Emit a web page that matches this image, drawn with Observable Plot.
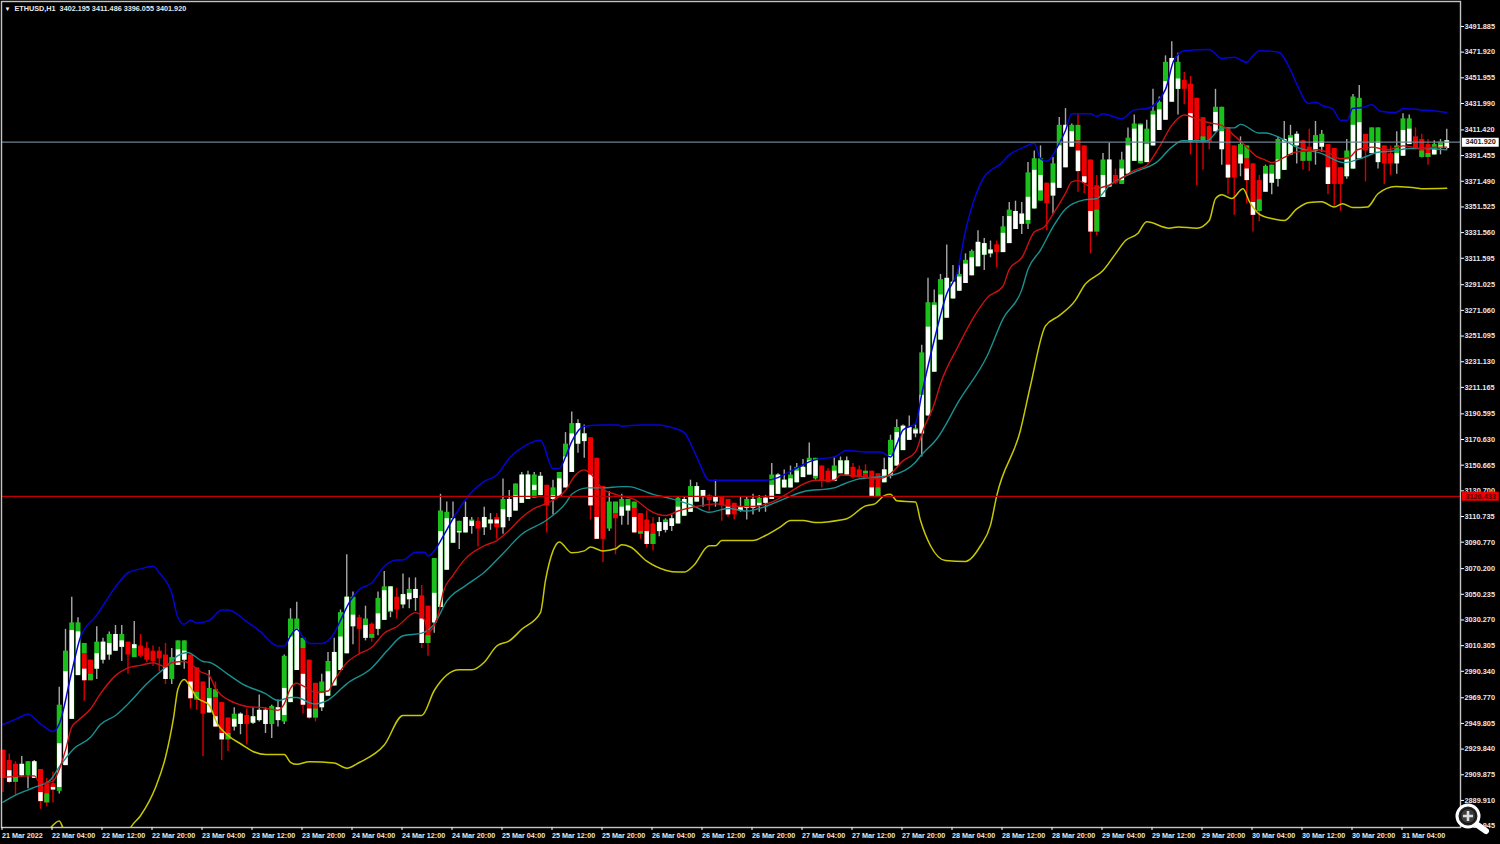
<!DOCTYPE html>
<html>
<head>
<meta charset="utf-8">
<script src="https://cdn.jsdelivr.net/npm/d3@7"></script>
<script src="https://cdn.jsdelivr.net/npm/@observablehq/plot@0.6"></script>
<style>
html,body{margin:0;padding:0;background:#000;overflow:hidden}
#wrap{position:relative;width:1500px;height:844px}
#lens{position:absolute;left:0;top:0;pointer-events:none}
</style>
</head>
<body>
<div id="wrap"></div>
<script>
const kinds = ("rrrgggrrrg"+"gggrrggggg"+"rgrrrrrggg"+"rrrgrrrggr"+"ggggggggrr"+"rggggggrgr"+"gggrgggrrg"+"ggggggrggr"+"gggggggrgg"+"ggggrrrgrg"+
"grrrrggggg"+"gggrgrrrgg"+"gggggggggg"+"grrgggrrrr"+"rggggggggg"+"gggggggggr"+"gggggggrgg"+"ggrrrrggrg"+"gggggggggr"+"rrrrggrrgr"+
"rrggggggrr"+"ggrrrgggrg"+"grrgggrrrggg").split("");
const highs = [2929,2926,2920,2924,2920,2921,2914,2907,2912,2978,
3023,3048,3032,3012,2999,3025,3016,3021,3026,3026,
3013,3029,3019,3013,3010,3009,3012,3008,3014,3014,
3003,2993,2982,2991,2982,2966,2954,2962,2958,2961,
2962,2972,2962,2964,2968,3003,3039,3044,3016,2999,
2981,2988,3005,3016,3038,3081,3052,3034,3041,3028,
3052,3068,3056,3055,3066,3063,3063,3057,3041,3078,
3128,3122,3122,3107,3122,3110,3110,3118,3113,3113,
3140,3131,3136,3145,3146,3145,3145,3135,3139,3145,
3176,3192,3186,3182,3172,3156,3134,3130,3122,3128,
3124,3122,3113,3115,3110,3110,3109,3112,3126,3126,
3139,3137,3131,3128,3139,3126,3124,3121,3126,3126,
3128,3127,3127,3152,3144,3147,3150,3152,3155,3168,
3156,3150,3148,3157,3157,3157,3152,3150,3151,3146,
3144,3156,3174,3186,3182,3189,3182,3244,3296,3287,
3299,3322,3306,3306,3315,3318,3333,3327,3325,3325,
3344,3355,3356,3355,3386,3395,3399,3370,3390,3421,
3428,3416,3424,3399,3388,3376,3393,3401,3381,3394,
3413,3423,3416,3419,3443,3437,3469,3480,3471,3456,
3453,3436,3421,3415,3443,3429,3413,3399,3406,3399,
3385,3376,3384,3384,3406,3418,3415,3410,3403,3412,
3418,3411,3400,3397,3382,3404,3439,3446,3408,3413,
3413,3399,3399,3410,3424,3423,3413,3408,3404,3403,3404,3412];
const lows = [2896,2903,2894,2908,2899,2907,2883,2885,2888,2895,
2917,2953,2987,2967,2983,2984,2996,2999,3006,2998,
2988,3001,3001,2997,2994,2990,2980,2980,2995,2992,
2961,2960,2924,2958,2947,2921,2928,2944,2941,2933,
2949,2951,2942,2938,2947,2949,2966,2991,2957,2953,
2951,2959,2971,2979,2991,3004,3011,3003,3014,3013,
3018,3030,3032,3031,3039,3039,3037,3008,3002,3020,
3040,3069,3090,3085,3098,3097,3087,3096,3100,3093,
3097,3107,3115,3121,3124,3125,3127,3098,3112,3126,
3133,3145,3160,3156,3108,3093,3075,3099,3081,3104,
3104,3098,3093,3086,3084,3095,3098,3099,3105,3111,
3114,3122,3118,3115,3118,3107,3110,3108,3114,3108,
3112,3114,3114,3124,3128,3133,3133,3137,3141,3143,
3139,3133,3137,3138,3144,3142,3140,3140,3140,3126,
3126,3137,3140,3150,3162,3170,3172,3157,3189,3223,
3248,3265,3280,3286,3292,3298,3305,3302,3312,3304,
3316,3323,3334,3330,3334,3350,3356,3333,3346,3366,
3382,3398,3363,3362,3315,3329,3359,3367,3369,3369,
3377,3387,3385,3386,3399,3411,3419,3433,3423,3431,
3392,3368,3380,3396,3410,3384,3361,3345,3375,3354,
3332,3340,3363,3361,3367,3380,3392,3385,3380,3379,
3384,3394,3361,3352,3348,3373,3381,3389,3371,3393,
3381,3369,3376,3377,3391,3400,3396,3389,3384,3392,3392,3396];
const bodyTops = [2929,2921,2918,2918,2920,2920,2914,2903,2903,2964,
3006,3028,3028,3004,2999,3013,3013,3019,3019,3019,
3013,3011,3010,3008,3006,3006,3003,3001,3014,3014,
3003,2993,2982,2977,2970,2966,2954,2957,2957,2956,
2955,2960,2960,2963,2962,3002,3031,3031,3008,2999,
2981,2982,2998,3005,3036,3048,3048,3032,3031,3027,
3047,3056,3056,3048,3050,3054,3054,3049,3041,3078,
3115,3114,3109,3107,3110,3108,3107,3110,3108,3110,
3124,3124,3136,3143,3143,3143,3142,3135,3133,3145,
3167,3183,3183,3175,3172,3156,3134,3122,3113,3124,
3124,3117,3113,3108,3105,3106,3108,3109,3125,3124,
3134,3134,3131,3127,3126,3126,3124,3121,3118,3124,
3124,3125,3125,3143,3143,3139,3143,3149,3149,3156,
3156,3150,3146,3150,3154,3154,3149,3147,3144,3146,
3144,3147,3170,3180,3181,3180,3179,3238,3277,3277,
3295,3296,3293,3299,3310,3317,3324,3323,3318,3322,
3336,3349,3348,3346,3378,3389,3389,3370,3385,3415,
3415,3415,3403,3399,3388,3368,3388,3388,3376,3388,
3405,3416,3416,3412,3426,3433,3464,3467,3464,3450,
3447,3436,3421,3414,3429,3429,3413,3399,3400,3389,
3385,3372,3383,3384,3404,3404,3407,3408,3403,3398,
3407,3408,3400,3397,3382,3395,3437,3436,3408,3413,
3413,3399,3393,3399,3420,3420,3406,3404,3400,3400,3402,3403];
const bodyBots = [2907,2904,2904,2909,2909,2907,2889,2888,2898,2897,
2917,2953,2987,2983,2983,2992,2999,3003,3006,3009,
3003,3001,3002,2999,2998,3000,2984,2984,2995,2999,
2969,2968,2957,2958,2947,2937,2937,2947,2949,2949,
2950,2952,2949,2949,2952,2951,2966,2991,2964,2954,
2954,2962,2971,2979,2991,3004,3025,3023,3016,3016,
3023,3030,3036,3038,3042,3046,3047,3012,3012,3028,
3040,3069,3090,3098,3098,3103,3101,3102,3105,3102,
3102,3110,3115,3121,3124,3125,3127,3119,3124,3126,
3133,3145,3167,3169,3119,3093,3093,3101,3109,3111,
3115,3098,3097,3089,3089,3099,3100,3103,3105,3111,
3114,3122,3126,3123,3122,3119,3112,3112,3115,3117,
3117,3119,3121,3124,3128,3133,3133,3137,3141,3143,
3140,3138,3137,3138,3144,3143,3141,3141,3140,3126,
3126,3137,3142,3150,3162,3170,3175,3175,3189,3223,
3248,3265,3280,3286,3292,3298,3305,3314,3315,3316,
3316,3323,3334,3338,3338,3350,3356,3354,3360,3366,
3382,3398,3379,3370,3332,3332,3359,3367,3370,3369,
3377,3387,3385,3386,3399,3411,3419,3433,3443,3443,
3402,3402,3402,3402,3410,3396,3374,3374,3385,3372,
3345,3348,3363,3370,3373,3380,3392,3399,3387,3394,
3395,3398,3369,3369,3369,3375,3381,3389,3395,3393,
3386,3385,3385,3385,3391,3400,3397,3390,3390,3392,3397,3397];
const whiteTops = [0,2913,0,2918,0,2920,2896,0,2900,2934,
2990,3022,3021,2992,0,3004,3013,3012,3019,3014,
0,3011,0,0,0,0,2993,0,3007,3006,
2982,0,0,2969,2955,2942,0,2953,2957,0,
2955,2960,2960,0,2962,2977,3017,3023,2988,2961,
0,2973,2990,3005,3017,3048,3034,0,3026,0,
3035,3053,3056,0,3050,3051,3054,3031,0,3051,
3099,3109,3109,3099,3110,3107,0,3110,3108,3108,
3116,3124,3127,3143,3143,3135,3142,0,3127,3140,
3157,3175,3183,3175,3143,3110,0,0,0,3118,
3119,3110,0,3099,0,3106,3106,3109,3118,3124,
3126,3134,3131,0,3126,0,3118,0,3118,3118,
3124,3121,3125,3135,3143,3139,3140,3146,3149,3154,
3154,0,0,3146,3154,3154,0,0,0,3133,
0,3147,3158,3176,3181,3180,3178,3205,3258,3275,
3283,3296,3293,3297,3307,3312,3324,3323,3318,0,
3331,3344,3348,3346,3359,3380,3376,0,3370,3399,
3415,3410,3395,3375,3348,0,3376,3388,0,3381,
3399,3412,3415,3400,3423,3427,3449,3467,3451,0,
3424,0,0,0,3425,3410,3384,0,3392,3381,
3355,0,3377,3377,3388,3404,3405,3408,0,0,
3402,3402,3382,0,0,3388,3415,3417,0,3401,
3402,0,0,3393,3411,3412,0,0,0,3396,3399,3403];
const whiteBots = [0,2904,0,2909,0,2907,2889,0,2898,2900,
2917,2953,2987,2983,0,2992,2999,3003,3006,3009,
0,3008,0,0,0,0,2984,0,2995,2999,
2969,0,0,2958,2947,2937,0,2947,2949,0,
2950,2952,2949,0,2952,2956,2966,2991,2964,2954,
0,2962,2971,2979,2991,3004,3025,0,3016,0,
3023,3030,3037,0,3042,3046,3047,3012,0,3028,
3040,3069,3090,3098,3098,3103,0,3102,3105,3105,
3102,3110,3115,3121,3124,3131,3127,0,3124,3126,
3133,3145,3167,3169,3119,3093,0,0,0,3111,
3115,3098,0,3089,0,3099,3100,3103,3105,3111,
3114,3122,3126,0,3122,0,3112,0,3115,3117,
3117,3119,3121,3124,3128,3133,3133,3137,3141,3143,
3142,0,0,3138,3144,3143,0,0,0,3126,
0,3137,3142,3150,3162,3170,3175,3175,3189,3223,
3248,3265,3280,3286,3292,3298,3305,3314,3315,0,
3316,3323,3334,3338,3341,3350,3364,0,3360,3366,
3382,3398,3379,3370,3332,0,3359,3367,0,3372,
3377,3387,3387,3386,3399,3411,3419,3433,3443,0,
3402,0,0,0,3410,3396,3374,0,3385,3372,
3345,0,3363,3370,3373,3380,3392,3399,0,0,
3395,3398,3369,0,0,3375,3381,3389,0,3393,
3386,0,0,3385,3391,3400,0,0,0,3392,3397,3397];
const tailBars = [2,7,13,14,31,34,36,48,50,59,68,98,101,102,104,138,140,172,175,192,199,201,208,209,227,228];
const tailTops = [2908,2895,3012,2988,2974,2976,2942,3016,2961,3019,3018,3122,3122,3099,3097,3146,3133,3415,3349,3406,3399,3357,3394,3394,3395,3393];
const tailBots = [2904,2888,3004,2983,2968,2970,2937,3008,2954,3016,3012,3113,3117,3097,3089,3144,3126,3403,3332,3402,3389,3348,3387,3387,3390,3390];

const upperBars = [0,2,4,6,8,9,11,12.4,15,18,20,22,24,25,27,28,29,30,31,33,35,36,39,41,44,45,46,47,48,49,51,53,54,55.3,57,59,61,63,64,66,67.5,68,69,70.5,72,74,77,79,81,83.6,86,88,89,90,91,93,96,98.5,99,102,105,107,109,111,113,114,118,122,124,126,128,130,133,135,138,140.5,142,143,144,146,147,149,151,152.7,154,155.6,157,159.6,161,163.4,165,166,167,169,170,171,174,175,176,179,181,183,186,187.3,189,193,195,197,199,200,201,204,206,207,208.9,210,211.3,212.7,214,215.1,215.9,217.7,219,220.4,222.8,224.1,226.8,229.5,231];
const upperVals = [2949,2953,2957,2949.5,2943.5,2949.5,2990,3017,3034,3056,3067,3070,3072,3067,3051,3032,3027,3030,3028,3030,3038,3038,3029,3022,3010,3010,3018,3023,3017,3012,3012,3020,3030,3043,3054,3059,3072,3077,3077,3083,3083,3080,3084,3096,3109,3124,3138,3143,3156,3166,3170,3148,3148,3157,3169,3181,3182,3182,3181,3182,3182,3180,3176,3157,3139,3139,3139,3139,3141,3146,3151,3155,3157,3162,3161,3161,3157,3167,3178,3183,3206,3248,3284,3301,3333,3360,3375,3385,3392,3398,3401,3389,3387,3401,3411,3424,3424,3422,3424,3420,3427,3428,3443,3465,3473,3474,3467,3468,3464,3469,3473,3472,3458,3447,3432,3433,3430,3428,3419,3419,3428,3429,3431,3426,3425,3428,3427,3426,3425];

const fastBars = [0,5,6,8,9,10,11,12,14,15.6,18,20,22,24,26,27,29,30,31.6,33,34,35,37,39,41.7,44,45,46,47,48,50,52,53,55,57,59,61,63,66,67.5,68,69.5,70.5,72,74,77,79,81,83,85,87,90,91.6,93,94,96,98,101,104,106,108,111,114,117,120,123,126,128,130,133,134,137,140,142,144,146,147.3,149,150,152.7,156,157.5,160,161,163,165,166.6,168,170,171,172,174.6,176.7,178,181,183,185,187,189,191,193,195,197,199,200.5,202,203,205,206.6,208.3,210.3,212,214,215.4,216.7,219,221.5,224,227,229.2,231];
const fastVals = [2908,2909,2903,2905,2914,2929,2947,2952,2961,2973,2987,2993,2995,2997,2994,2997,2998,2996,2990,2987,2977,2971.5,2966,2963,2962,2960,2965,2977,2981,2979,2974,2975,2983,2997,3004,3009,3020,3025,3036,3030,3021,3032,3053,3065,3078,3088,3092,3100,3110,3117,3121,3131,3143,3147,3144,3132,3128,3124,3114,3111.5,3115,3118.5,3120.6,3118.5,3118.5,3122,3130,3136,3139,3139,3143,3142,3140,3144,3154,3161,3179,3198,3214,3242,3271,3281,3290,3303,3312,3332,3336,3346,3362,3371,3372,3366,3368,3371,3380,3384,3398,3415,3423,3420,3417,3415,3407,3398,3391,3388,3386,3390,3394,3395,3396,3394,3389,3390,3396,3398,3396,3399,3397,3398,3398];

const middleBars = [0,2,5,7.6,9,11.3,14,15.6,18,20,23,26,28,29.5,32,33,36,38.5,42,44,46,47,49.7,52,55,59,61.5,64,67,69,71,74,77,80,83,87,90,91,93.5,96,99,100,104,107,110,113,116,119,122,125,128,133,134,137,142,146,147,149.4,153,157.5,160,163,164,166,168,170,173,175,177,181,184.6,187,188.7,192.6,195,197,198,201,202,204,207,211,214.5,217.7,220,222.5,225,227,231];
const middleVals = [2888.5,2894,2900,2906,2916,2930,2939,2949,2956,2965,2980.6,2993.5,3002.6,3005,2998,2997.4,2988,2980,2973,2967.6,2970,2970,2965,2968,2980.6,2993,3006.5,3018,3020,3027,3045,3057,3067.4,3082,3097,3108,3121,3128,3133,3133,3134,3134,3128,3124.5,3120,3114,3117,3115,3118.5,3124.5,3130,3133,3135,3140,3142.6,3153,3159,3171,3201,3236,3264.5,3287,3303,3318,3336,3350,3357,3358,3368,3378.6,3386.4,3398,3403,3403,3413,3413,3415.7,3409,3409,3406,3398,3393,3386,3390,3394,3395,3397,3397,3396];

const lowerBars = [7.6,9,9.6,10.5,19.5,20.4,22,24.4,26,27.3,28,29,30,31,33,34.3,36,38,40,42,45,46,47,49,53,55,57,61,64,67,69,73,75,77,79,81,83,86,86.8,88,89,91,93,94,96,98,99,100.4,103,106,108,109,110.5,113,114,115,120,122,124.5,126,128,130,134,135,138,139.5,141,142,143,146,146.8,148.4,150.8,154,156.4,158,159,162.8,164.4,166.8,169,171.6,173,176,178,179.6,181.5,183,186.6,188,191,193,194,195,196.6,198.4,199.5,201,203.5,205,207,209,211,213,214.3,216,218.3,220,222.8,225.8,227.4,231];
const lowerVals = [2868.5,2874,2868.5,2858,2858,2868.5,2878,2900,2923.5,2954.6,2976.7,2984,2978,2970,2964,2949.5,2940.4,2934,2928,2925.6,2925.6,2919.6,2918,2920,2919,2915,2919.4,2933,2956,2956,2975.4,2991.5,2991.5,2997.4,3010,3014,3023,3036,3061,3084,3091,3082.5,3084,3087,3084,3085.6,3088.7,3087,3076,3069,3067.5,3067.5,3072.6,3088,3088,3092,3092,3096,3103,3107.7,3107.7,3106,3108,3109,3119,3120.6,3127,3128,3123,3122,3107.6,3088,3076.5,3075.8,3088,3104,3127,3178,3212.6,3259,3267,3279,3290.4,3302,3315,3325.4,3330.6,3340,3335,3336,3335,3341,3358,3361,3358,3365.6,3355,3346,3342,3341,3350,3355,3355.5,3351.4,3354,3351,3351.4,3361.8,3367.5,3366.4,3365.7,3366];

const priceTicks = [3491.885,3471.920,3451.955,3431.990,3411.420,3391.455,3371.490,3351.525,3331.560,3311.595,3291.025,3271.060,3251.095,3231.130,3211.165,3190.595,3170.630,3150.665,3130.700,3110.735,3090.770,3070.200,3050.235,3030.270,3010.305,2990.340,2969.770,2949.805,2929.840,2909.875,2889.910,2869.945];
const timeLabels = ["21 Mar 2022","22 Mar 04:00","22 Mar 12:00","22 Mar 20:00","23 Mar 04:00","23 Mar 12:00","23 Mar 20:00","24 Mar 04:00","24 Mar 12:00","24 Mar 20:00","25 Mar 04:00","25 Mar 12:00","25 Mar 20:00","26 Mar 04:00","26 Mar 12:00","26 Mar 20:00","27 Mar 04:00","27 Mar 12:00","27 Mar 20:00","28 Mar 04:00","28 Mar 12:00","28 Mar 20:00","29 Mar 04:00","29 Mar 12:00","29 Mar 20:00","30 Mar 04:00","30 Mar 12:00","30 Mar 20:00","31 Mar 04:00"];
const timeTicks = timeLabels.map((_, i) => i * 8);
const headerText = "ETHUSD,H1  3402.195 3411.486 3396.055 3401.920";
const lastPrice = 3401.920, alertPrice = 3126.433;

const C = {green:"#1cc01c", red:"#f00000", wickUp:"#a8a8a8", wickDown:"#d80000", frame:"#c4c4c4",
  blue:"#0404d4", teal:"#1a9090", fast:"#cc1010", yellow:"#c8c800", last:"#6f8290", alert:"#c00000"};

const bars = kinds.map((k, i) => ({i, k, h:highs[i], l:lows[i], t:bodyTops[i], b:bodyBots[i], wt:whiteTops[i], wb:whiteBots[i]}));
const whites = bars.filter(d => d.wt);
const tails = tailBars.map((i, n) => ({i, t:tailTops[n], b:tailBots[n]}));
const pairs = (xs, ys) => xs.map((x, n) => ({x, y:ys[n]}));
const tagBars = [233.5, 239.4];
const band = (xs, ys, stroke, w) => Plot.line(pairs(xs, ys), {x:"x", y:"y", stroke, strokeWidth:w, clip:true, curve:"monotone-x"});

const chart = Plot.plot({
  width:1500, height:844,
  marginLeft:1, marginRight:40, marginTop:1, marginBottom:17,
  style:{background:"#000", color:"#fff", fontFamily:"'Liberation Sans',sans-serif", fontSize:"8px"},
  x:{type:"linear", domain:[-0.24, 233.2], axis:null},
  y:{type:"linear", domain:[2868.86, 3511.3], axis:null},
  marks:[
    Plot.ruleX(bars, {x:"i", y1:"l", y2:"h", stroke:d => d.k === "g" ? C.wickUp : C.wickDown, strokeWidth:1.4}),
    Plot.ruleX(bars, {x:"i", y1:"b", y2:"t", stroke:d => d.k === "g" ? C.green : C.red, strokeWidth:5}),
    Plot.ruleX(tails, {x:"i", y1:"b", y2:"t", stroke:C.green, strokeWidth:5}),
    Plot.ruleX(whites, {x:"i", y1:"wb", y2:"wt", stroke:"#fff", strokeWidth:4.4}),
    band(upperBars, upperVals, C.blue, 1.5),
    band(lowerBars, lowerVals, C.yellow, 1.5),
    band(middleBars, middleVals, C.teal, 1.4),
    band(fastBars, fastVals, C.fast, 1.4),
    Plot.ruleY([lastPrice], {stroke:C.last, strokeWidth:1.2}),
    Plot.ruleY([alertPrice], {stroke:C.alert, strokeWidth:1.2}),
    Plot.frame({stroke:C.frame, strokeWidth:1.4}),
    Plot.axisY(priceTicks, {anchor:"right", tickSize:3, tickPadding:1, stroke:"#fff", tickFormat:d => d.toFixed(3), fill:"#e8e8e8", fontSize:7.3, fontWeight:"bold", label:null}),
    Plot.axisX(timeTicks, {anchor:"bottom", tickSize:3, stroke:"#fff", tickPadding:2, dx:-1, tickFormat:d => timeLabels[d / 8], textAnchor:"start", fill:"#e8e8e8", fontSize:7.2, fontWeight:"bold", label:null}),
    Plot.ruleY([lastPrice], {x1:tagBars[0], x2:tagBars[1], stroke:"#fff", strokeWidth:9}),
    Plot.text([lastPrice], {x:tagBars[0], y:d => d, text:d => d.toFixed(3), textAnchor:"start", dx:3, fill:"#222", fontSize:7.3, fontWeight:"bold"}),
    Plot.ruleY([alertPrice], {x1:tagBars[0], x2:tagBars[1], stroke:"#ee0000", strokeWidth:9}),
    Plot.text([alertPrice], {x:tagBars[0], y:d => d, text:d => d.toFixed(3), textAnchor:"start", dx:3, fill:"#5a0000", fontSize:7.3, fontWeight:"bold"}),
    Plot.text([headerText], {frameAnchor:"top-left", dx:13, dy:4, fill:"#e8e8e8", fontSize:7.25, fontWeight:"bold", text:d => d}),
    Plot.text(["▼"], {frameAnchor:"top-left", dx:3, dy:5, fill:"#fff", fontSize:6, text:d => d})
  ]
});
const wrap = document.getElementById("wrap");
wrap.appendChild(chart);
wrap.insertAdjacentHTML("beforeend", `<svg id="lens" width="1500" height="844" viewBox="0 0 1500 844">
<line x1="1476" y1="824" x2="1486" y2="831" stroke="#fff" stroke-width="6" stroke-linecap="round"/>
<circle cx="1468" cy="816" r="11" fill="#222" stroke="#fff" stroke-width="3"/>
<circle cx="1468" cy="816" r="7.5" fill="#3a3a3a" stroke="#111" stroke-width="1"/>
<path d="M1463 816h10M1468 811v10" stroke="#ddd" stroke-width="2.6"/>
</svg>`);
</script>
</body>
</html>
